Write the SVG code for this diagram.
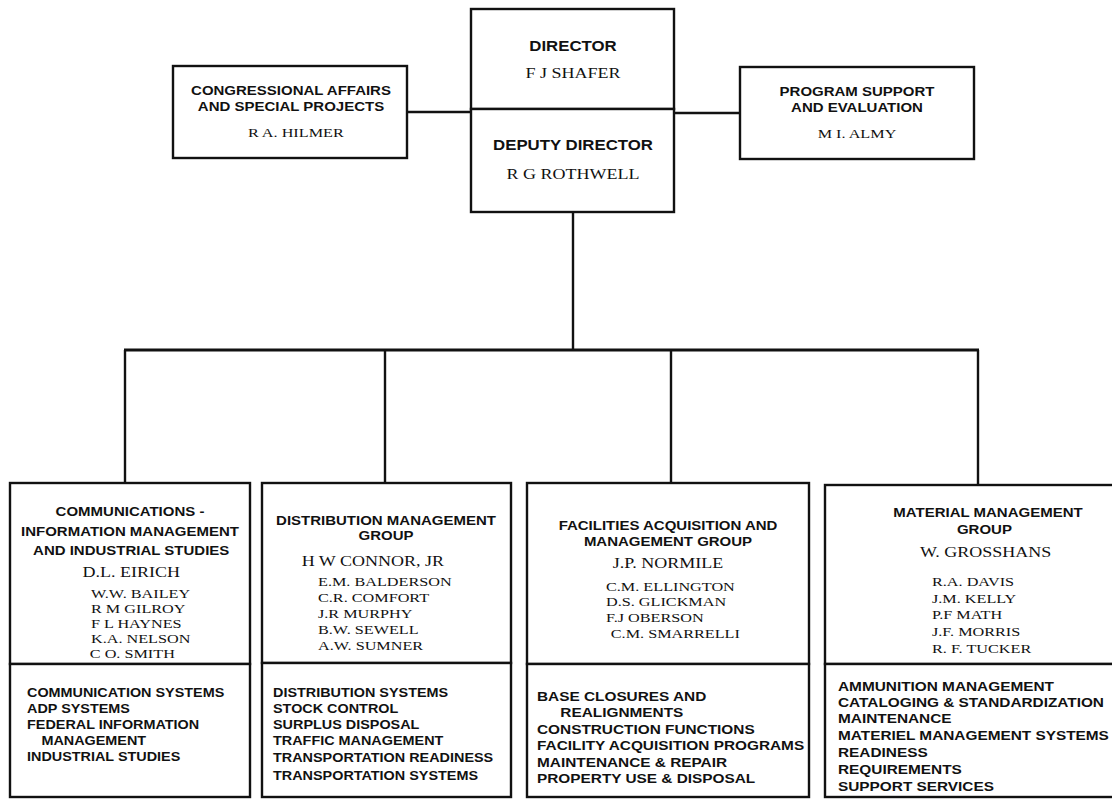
<svg xmlns="http://www.w3.org/2000/svg" width="1112" height="800" viewBox="0 0 1112 800">
  <style>
    .bx { fill: #fff; stroke: #111; stroke-width: 2.4; }
    .cn { fill: none; stroke: #111; stroke-width: 2.4; }
    .bus { fill: none; stroke: #111; stroke-width: 3; }
    text { fill: #111; }
    .t { font-family: "Liberation Sans", Arial, sans-serif; font-weight: bold; font-size: 14px; text-anchor: middle; }
    .h { font-family: "Liberation Sans", Arial, sans-serif; font-weight: bold; font-size: 12.5px; text-anchor: middle; }
    .s { font-family: "Liberation Sans", Arial, sans-serif; font-weight: bold; font-size: 12px; }
    .s2 { font-family: "Liberation Sans", Arial, sans-serif; font-weight: bold; font-size: 12.5px; }
    .ld { font-family: "Liberation Serif", "Times New Roman", serif; font-size: 15px; text-anchor: middle; }
    .nm { font-family: "Liberation Serif", "Times New Roman", serif; font-size: 13.5px; }
    .nc { font-family: "Liberation Serif", "Times New Roman", serif; font-size: 13.5px; text-anchor: middle; }
  </style>
  <rect width="1112" height="800" fill="#fff"/>

  <!-- connectors -->
  <g id="connectors">
    <path class="cn" d="M407 112 H471"/>
    <path class="cn" d="M674 113 H740"/>
    <path class="cn" d="M573 212 V350"/>
    <path class="bus" d="M124 350 H979"/>
    <path class="cn" d="M125 350 V483"/>
    <path class="cn" d="M385 350 V483"/>
    <path class="cn" d="M671 350 V483"/>
    <path class="cn" d="M978 350 V485"/>
  </g>

  <!-- office of the director -->
  <g id="director">
    <rect class="bx" x="471" y="9" width="203" height="100"/>
    <g transform="translate(573 0) scale(1.2 1)">
      <text class="t" x="0" y="51">DIRECTOR</text>
      <text class="ld" x="0" y="78">F J  SHAFER</text>
    </g>
  </g>
  <g id="deputy-director">
    <rect class="bx" x="471" y="109" width="203" height="103"/>
    <g transform="translate(573 0) scale(1.2 1)">
      <text class="t" x="0" y="150">DEPUTY DIRECTOR</text>
      <text class="ld" x="0" y="179">R G  ROTHWELL</text>
    </g>
  </g>

  <!-- staff offices -->
  <g id="congressional-affairs">
    <rect class="bx" x="173" y="66" width="234" height="92"/>
    <g transform="translate(291 0) scale(1.2 1)">
      <text class="h" x="0" y="95">CONGRESSIONAL AFFAIRS</text>
      <text class="h" x="0" y="111">AND SPECIAL PROJECTS</text>
      <text class="nc" x="4" y="137">R A. HILMER</text>
    </g>
  </g>
  <g id="program-support">
    <rect class="bx" x="740" y="67" width="234" height="92"/>
    <g transform="translate(857 0) scale(1.2 1)">
      <text class="h" x="0" y="96">PROGRAM SUPPORT</text>
      <text class="h" x="0" y="112">AND EVALUATION</text>
      <text class="nc" x="0" y="138">M I. ALMY</text>
    </g>
  </g>

  <!-- groups -->
  <g id="communications-group">
    <rect class="bx" x="10" y="483" width="240" height="181"/>
    <rect class="bx" x="10" y="664" width="240" height="133"/>
    <g transform="translate(130 0) scale(1.2 1)">
      <text class="h" x="0" y="516">COMMUNICATIONS -</text>
      <text class="h" x="0" y="536">INFORMATION MANAGEMENT</text>
      <text class="h" x="1" y="555">AND INDUSTRIAL STUDIES</text>
      <text class="ld" x="1" y="577">D.L. EIRICH</text>
    </g>
    <g transform="translate(91 0) scale(1.2 1)">
      <text class="nm" x="0" y="598">W.W. BAILEY</text>
      <text class="nm" x="0" y="613">R M  GILROY</text>
      <text class="nm" x="0" y="628">F L  HAYNES</text>
      <text class="nm" x="0" y="643">K.A. NELSON</text>
      <text class="nm" x="-1" y="658">C O. SMITH</text>
    </g>
    <g transform="translate(27 0) scale(1.2 1)">
      <text class="s" x="0" y="697">COMMUNICATION SYSTEMS</text>
      <text class="s" x="0" y="713">ADP SYSTEMS</text>
      <text class="s" x="0" y="729">FEDERAL INFORMATION</text>
      <text class="s" x="12" y="745">MANAGEMENT</text>
      <text class="s" x="0" y="761">INDUSTRIAL STUDIES</text>
    </g>
  </g>

  <g id="distribution-group">
    <rect class="bx" x="262" y="483" width="249" height="180"/>
    <rect class="bx" x="262" y="663" width="249" height="134"/>
    <g transform="translate(386 0) scale(1.2 1)">
      <text class="h" x="0" y="525">DISTRIBUTION MANAGEMENT</text>
      <text class="h" x="0" y="540">GROUP</text>
      <text class="ld" x="-11" y="566">H W  CONNOR, JR</text>
    </g>
    <g transform="translate(318 0) scale(1.2 1)">
      <text class="nm" x="0" y="586">E.M. BALDERSON</text>
      <text class="nm" x="0" y="602">C.R. COMFORT</text>
      <text class="nm" x="0" y="618">J.R  MURPHY</text>
      <text class="nm" x="0" y="634">B.W. SEWELL</text>
      <text class="nm" x="0" y="650">A.W. SUMNER</text>
    </g>
    <g transform="translate(273 0) scale(1.2 1)">
      <text class="s" x="0" y="697">DISTRIBUTION SYSTEMS</text>
      <text class="s" x="0" y="713">STOCK CONTROL</text>
      <text class="s" x="0" y="729">SURPLUS DISPOSAL</text>
      <text class="s" x="0" y="745">TRAFFIC MANAGEMENT</text>
      <text class="s" x="0" y="762">TRANSPORTATION READINESS</text>
      <text class="s" x="0" y="780">TRANSPORTATION SYSTEMS</text>
    </g>
  </g>

  <g id="facilities-group">
    <rect class="bx" x="527" y="483" width="282" height="181"/>
    <rect class="bx" x="527" y="664" width="282" height="133"/>
    <g transform="translate(668 0) scale(1.2 1)">
      <text class="h" x="0" y="530">FACILITIES ACQUISITION AND</text>
      <text class="h" x="0" y="546">MANAGEMENT GROUP</text>
      <text class="ld" x="0" y="568">J.P. NORMILE</text>
    </g>
    <g transform="translate(606 0) scale(1.2 1)">
      <text class="nm" x="0" y="591">C.M. ELLINGTON</text>
      <text class="nm" x="0" y="606">D.S. GLICKMAN</text>
      <text class="nm" x="0" y="622">F.J  OBERSON</text>
      <text class="nm" x="4" y="638">C.M. SMARRELLI</text>
    </g>
    <g transform="translate(537 0) scale(1.23 1)">
      <text class="s2" x="0" y="701">BASE CLOSURES AND</text>
      <text class="s2" x="19" y="717">REALIGNMENTS</text>
      <text class="s2" x="0" y="734">CONSTRUCTION FUNCTIONS</text>
      <text class="s2" x="0" y="750">FACILITY ACQUISITION PROGRAMS</text>
      <text class="s2" x="0" y="767">MAINTENANCE &amp; REPAIR</text>
      <text class="s2" x="0" y="783">PROPERTY USE &amp; DISPOSAL</text>
    </g>
  </g>

  <g id="material-group">
    <rect class="bx" x="825" y="485" width="300" height="179"/>
    <rect class="bx" x="825" y="664" width="300" height="133"/>
    <g transform="translate(988 0) scale(1.2 1)">
      <text class="h" x="0" y="517">MATERIAL MANAGEMENT</text>
      <text class="h" x="-3" y="534">GROUP</text>
      <text class="ld" x="-2" y="557">W. GROSSHANS</text>
    </g>
    <g transform="translate(932 0) scale(1.2 1)">
      <text class="nm" x="0" y="586">R.A. DAVIS</text>
      <text class="nm" x="0" y="603">J.M. KELLY</text>
      <text class="nm" x="0" y="619">P.F  MATH</text>
      <text class="nm" x="0" y="636">J.F. MORRIS</text>
      <text class="nm" x="0" y="653">R. F. TUCKER</text>
    </g>
    <g transform="translate(838 0) scale(1.23 1)">
      <text class="s2" x="0" y="691">AMMUNITION MANAGEMENT</text>
      <text class="s2" x="0" y="707">CATALOGING &amp; STANDARDIZATION</text>
      <text class="s2" x="0" y="723">MAINTENANCE</text>
      <text class="s2" x="0" y="740">MATERIEL MANAGEMENT SYSTEMS</text>
      <text class="s2" x="0" y="757">READINESS</text>
      <text class="s2" x="0" y="774">REQUIREMENTS</text>
      <text class="s2" x="0" y="791">SUPPORT SERVICES</text>
    </g>
  </g>
</svg>
